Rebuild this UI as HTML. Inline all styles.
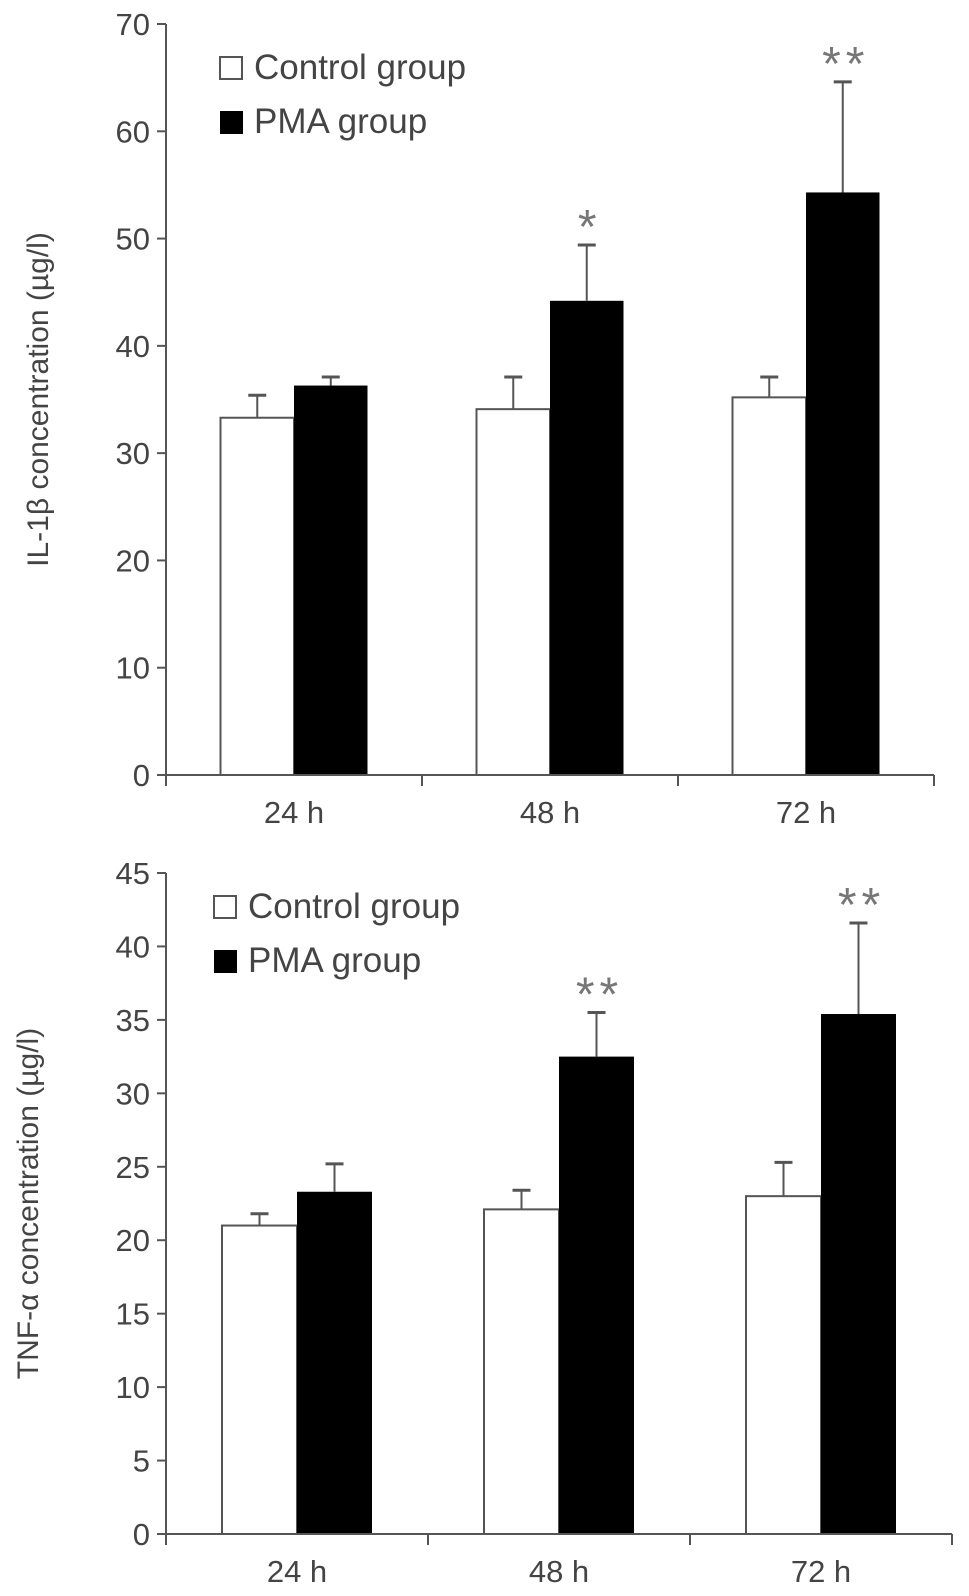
<!DOCTYPE html>
<html><head><meta charset="utf-8"><style>
html,body{margin:0;padding:0;background:#fff;}
svg{display:block;font-family:"Liberation Sans",Arial,sans-serif;}
</style></head><body>
<svg id="fig" width="969" height="1596" viewBox="0 0 969 1596" xmlns="http://www.w3.org/2000/svg"></svg>
<script>
const categories = ["24 h","48 h","72 h"];
const il1bControl = [33.3, 34.1, 35.2];
const il1bControlErr = [2.1, 3.0, 1.9];
const il1bPMA = [36.3, 44.2, 54.3];
const il1bPMAErr = [0.8, 5.2, 10.3];
const il1bSig = ["", "*", "**"];
const il1bTicks = [0,10,20,30,40,50,60,70];
const tnfControl = [21.0, 22.1, 23.0];
const tnfControlErr = [0.8, 1.3, 2.3];
const tnfPMA = [23.3, 32.5, 35.4];
const tnfPMAErr = [1.9, 3.0, 6.2];
const tnfSig = ["", "**", "**"];
const tnfTicks = [0,5,10,15,20,25,30,35,40,45];

const svg = document.getElementById('fig');
const NS = "http://www.w3.org/2000/svg";
function mk(tag, attrs, parent){const e=document.createElementNS(NS,tag);for(const k in attrs)e.setAttribute(k,attrs[k]);(parent||svg).appendChild(e);return e;}

function panel(cfg){
  const g = mk('g',{});
  
  
  const yMax = cfg.ticks[cfg.ticks.length-1];
  const y = v => cfg.y0 - (v / yMax) * (cfg.y0 - cfg.yTop);
  const catW = cfg.catW;
  const x = i => cfg.x0 + catW * i + catW/2;
  const col = '#555';
  const ya = mk('line',{x1:cfg.x0,y1:cfg.yTop,x2:cfg.x0,y2:cfg.y0+10,stroke:col,'stroke-width':2},g);
  
  
  cfg.ticks.forEach(t=>{
    mk('line',{x1:cfg.x0-9,y1:y(t),x2:cfg.x0,y2:y(t),stroke:col,'stroke-width':2},g);
    const tl = mk('text',{x:cfg.x0-16,y:y(t)+11,'text-anchor':'end','font-size':31,fill:'#444'},g);
    tl.textContent = t;
    
    
  });
  const bw = cfg.bw;
  categories.forEach((c,i)=>{
    const cx = x(i);
    const cb = mk('rect',{x:cx-bw,y:y(cfg.ctrl[i]),width:bw,height:y(0)-y(cfg.ctrl[i]),fill:'#fff',stroke:col,'stroke-width':2},g);
    
    
    const e1 = cfg.ctrl[i]+cfg.ctrlErr[i];
    mk('line',{x1:cx-bw/2,y1:y(cfg.ctrl[i]),x2:cx-bw/2,y2:y(e1),stroke:col,'stroke-width':2},g);
    mk('line',{x1:cx-bw/2-9,y1:y(e1),x2:cx-bw/2+9,y2:y(e1),stroke:col,'stroke-width':3},g);
    const pb = mk('rect',{x:cx,y:y(cfg.pma[i]),width:bw,height:y(0)-y(cfg.pma[i]),fill:'#000'},g);
    
    
    const e2 = cfg.pma[i]+cfg.pmaErr[i];
    mk('line',{x1:cx+bw/2,y1:y(cfg.pma[i]),x2:cx+bw/2,y2:y(e2),stroke:col,'stroke-width':2},g);
    mk('line',{x1:cx+bw/2-9,y1:y(e2),x2:cx+bw/2+9,y2:y(e2),stroke:col,'stroke-width':3},g);
    if(cfg.sig[i]){
      const s = mk('text',{x:cx+bw/2+3,y:y(e2)-2,'text-anchor':'middle','font-size':48,fill:'#777','letter-spacing':'5'},g);
      s.textContent = cfg.sig[i];
      
      
    }
    const xl = mk('text',{x:cx,y:cfg.y0+48,'text-anchor':'middle','font-size':31,fill:'#444'},g);
    xl.textContent = c;
    
    
  });
  const xa = mk('line',{x1:cfg.x0,y1:cfg.y0,x2:cfg.x0+catW*3,y2:cfg.y0,stroke:col,'stroke-width':2},g);
  
  
  for(let i=0;i<=3;i++) mk('line',{x1:cfg.x0+catW*i,y1:cfg.y0,x2:cfg.x0+catW*i,y2:cfg.y0+11,stroke:col,'stroke-width':2},g);
  const yt = mk('text',{x:0,y:0,'text-anchor':'middle','font-size':30,fill:'#444',transform:`translate(${cfg.titleX},${(cfg.y0+cfg.yTop)/2}) rotate(-90)`},g);
  yt.textContent = cfg.title;
  
  
  const lg = mk('g',{},g);
  
  
  mk('rect',{x:cfg.lx,y:cfg.ly,width:22,height:22,fill:'#fff',stroke:'#555','stroke-width':2},lg);
  const l1 = mk('text',{x:cfg.lx+34,y:cfg.ly+22,'font-size':35,fill:'#444'},lg);
  l1.textContent='Control group';
  
  
  mk('rect',{x:cfg.lx,y:cfg.ly+54,width:23,height:23,fill:'#000'},lg);
  const l2 = mk('text',{x:cfg.lx+34,y:cfg.ly+76,'font-size':35,fill:'#444'},lg);
  l2.textContent='PMA group';
  
  
}

panel({name:'il1b-chart',x0:166,catW:256,y0:775,yTop:24,bw:73.5,ticks:il1bTicks,ctrl:il1bControl,ctrlErr:il1bControlErr,pma:il1bPMA,pmaErr:il1bPMAErr,sig:il1bSig,title:'IL-1β concentration (µg/l)',titleX:48,lx:220,ly:57});
panel({name:'tnf-chart',x0:166,catW:262,y0:1534,yTop:873,bw:75,ticks:tnfTicks,ctrl:tnfControl,ctrlErr:tnfControlErr,pma:tnfPMA,pmaErr:tnfPMAErr,sig:tnfSig,title:'TNF-α concentration (µg/l)',titleX:38,lx:214,ly:896});
</script>
</body></html>
